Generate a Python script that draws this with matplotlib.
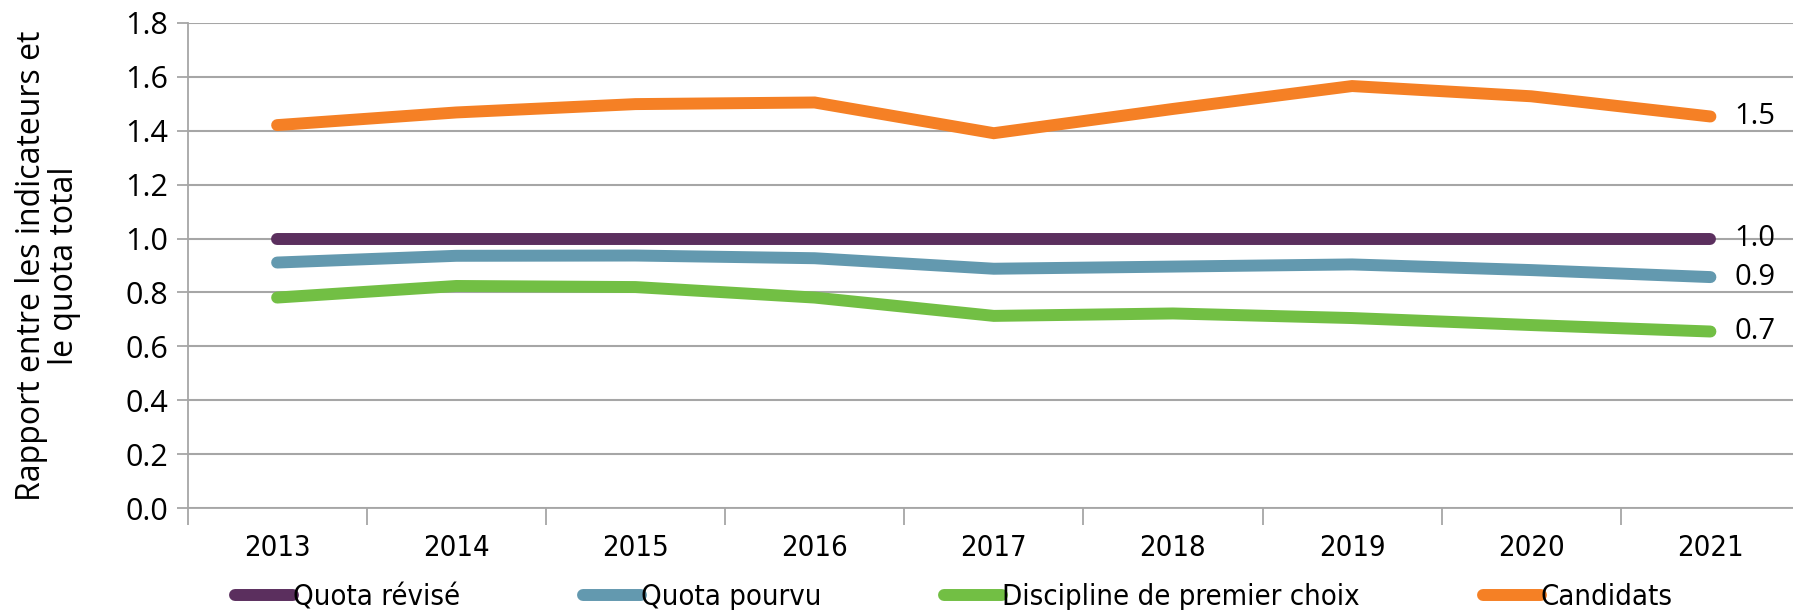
import matplotlib
matplotlib.use("Agg")
import matplotlib.pyplot as plt
from matplotlib.font_manager import findfont, FontProperties

annees = ["2013", "2014", "2015", "2016", "2017", "2018", "2019", "2020", "2021"]

quota_revise = [1.0, 1.0, 1.0, 1.0, 1.0, 1.0, 1.0, 1.0, 1.0]
quota_pourvu = [0.911, 0.936, 0.937, 0.927, 0.888, 0.896, 0.904, 0.883, 0.857]
premier_choix = [0.781, 0.824, 0.820, 0.781, 0.713, 0.722, 0.705, 0.679, 0.655]
candidats = [1.421, 1.468, 1.499, 1.505, 1.391, 1.481, 1.566, 1.528, 1.453]

noms = ["Quota révisé", "Quota pourvu", "Discipline de premier choix", "Candidats"]
couleurs = ["#5B2F5E", "#6399AF", "#72BF44", "#F58025"]

# police étroite pour les années et la légende, si disponible
etroite = "Liberation Sans Narrow"
try:
    findfont(FontProperties(family=etroite), fallback_to_default=False)
    police_x = dict(family=etroite)
except Exception:
    police_x = dict(family="DejaVu Sans", stretch="condensed")

fig = plt.figure(figsize=(17.93, 6.10), dpi=100)
ax = fig.add_axes([0.1046, 0.1672, 0.8993, 0.7951])

x = range(len(annees))
series = [quota_revise, quota_pourvu, premier_choix, candidats]
for vals, nom, c in zip(series, noms, couleurs):
    ax.plot(x, vals, color=c, lw=8.6, solid_capstyle="round",
            solid_joinstyle="miter", label=nom, zorder=3)

# étiquettes de fin de série
for vals in [candidats, quota_revise, quota_pourvu, premier_choix]:
    ax.annotate(f"{vals[-1]:.1f}", (len(annees) - 1, vals[-1]),
                xytext=(17, 0), textcoords="offset points", va="center",
                ha="left", fontsize=21, family="Open Sans", zorder=4)

ax.set_xlim(-0.5, len(annees) - 0.5)
ax.set_ylim(0, 1.8)
ax.set_yticks([i / 5 for i in range(10)])
ax.set_yticklabels([f"{i / 5:.1f}" for i in range(10)], family="Open Sans",
                   fontsize=22)
ax.set_xticks(list(x))
ax.set_xticklabels(annees, fontsize=21, **police_x)
ax.set_xticks([i - 0.5 for i in range(len(annees) + 1)], minor=True)
ax.tick_params(axis="x", which="major", length=0, pad=19)
ax.tick_params(axis="x", which="minor", length=12, color="#A6A6A6", width=1.3)
ax.tick_params(axis="y", length=8, color="#A6A6A6", width=1.3, pad=6)

ax.grid(axis="y", color="#A6A6A6", lw=1.5, zorder=0)
ax.set_axisbelow(True)
for s in ["top", "right"]:
    ax.spines[s].set_visible(False)
for s in ["left", "bottom"]:
    ax.spines[s].set_color("#A6A6A6")
    ax.spines[s].set_linewidth(1.3)

ax.set_ylabel("Rapport entre les indicateurs et\nle quota total", fontsize=23,
              family="Open Sans", linespacing=1.0, labelpad=32)

leg = fig.legend(loc="center", bbox_to_anchor=(0.532, 0.021), ncol=4,
                 frameon=False, prop=dict(size=21, **police_x),
                 handlelength=2.0, handletextpad=0.0, columnspacing=4.2)
for ligne in leg.get_lines():
    ligne.set_linewidth(8.6)
    ligne.set_solid_capstyle("round")

fig.savefig("out.png", dpi=100)
